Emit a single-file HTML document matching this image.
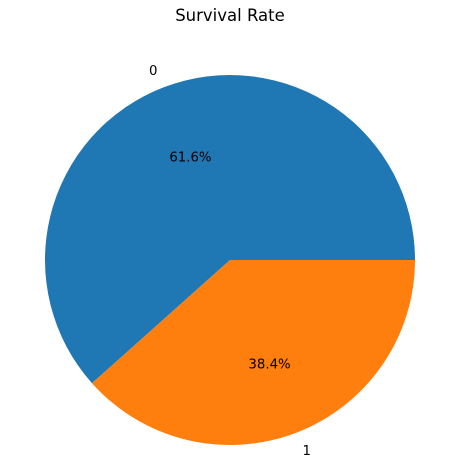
<!DOCTYPE html>
<html><head><meta charset="utf-8">
<style>
html,body{margin:0;padding:0;background:#fff;}
svg{display:block;font-family:"DejaVu Sans","Liberation Sans",sans-serif;}
</style></head>
<body>
<svg id="chart" width="451" height="467" viewBox="0 0 451 467">
<text x="230" y="21" text-anchor="middle" font-size="16.5" fill="#000">Survival Rate</text>
<g id="slices"></g>
</svg>
<script>
const categories = ["0", "1"];
const values = [61.6, 38.4];
const colors = ["#1f77b4", "#ff7f0e"];

const cx = 230, cy = 260, r = 185;
const ns = "http://www.w3.org/2000/svg";
const g = document.getElementById("slices");
const total = values.reduce((a, b) => a + b, 0);
function pt(angDeg, rad) {
  const a = angDeg * Math.PI / 180;
  return [cx + rad * Math.cos(a), cy - rad * Math.sin(a)];
}
let start = 0;
values.forEach((v, i) => {
  const sweep = v / total * 360;
  const end = start + sweep;
  const [x1, y1] = pt(start, r);
  const [x2, y2] = pt(end, r);
  const large = sweep > 180 ? 1 : 0;
  const p = document.createElementNS(ns, "path");
  p.setAttribute("d", `M${cx},${cy} L${x1},${y1} A${r},${r} 0 ${large} 0 ${x2},${y2} Z`);
  p.setAttribute("fill", colors[i]);
  
  
  g.appendChild(p);

  const mid = start + sweep / 2;
  const [lx, ly] = pt(mid, r * 1.1);
  const lab = document.createElementNS(ns, "text");
  lab.setAttribute("x", lx);
  lab.setAttribute("y", ly + 5);
  lab.setAttribute("font-size", "13.3");
  lab.setAttribute("text-anchor", Math.cos(mid * Math.PI / 180) < 0 ? "end" : "start");
  lab.textContent = categories[i];
  
  
  g.appendChild(lab);

  const [px, py] = pt(mid, r * 0.6);
  const pct = document.createElementNS(ns, "text");
  pct.setAttribute("x", px);
  pct.setAttribute("y", py + 5);
  pct.setAttribute("font-size", "13.3");
  pct.setAttribute("text-anchor", "middle");
  pct.textContent = (v / total * 100).toFixed(1) + "%";
  
  
  g.appendChild(pct);

  start = end;
});
</script>
</body></html>
